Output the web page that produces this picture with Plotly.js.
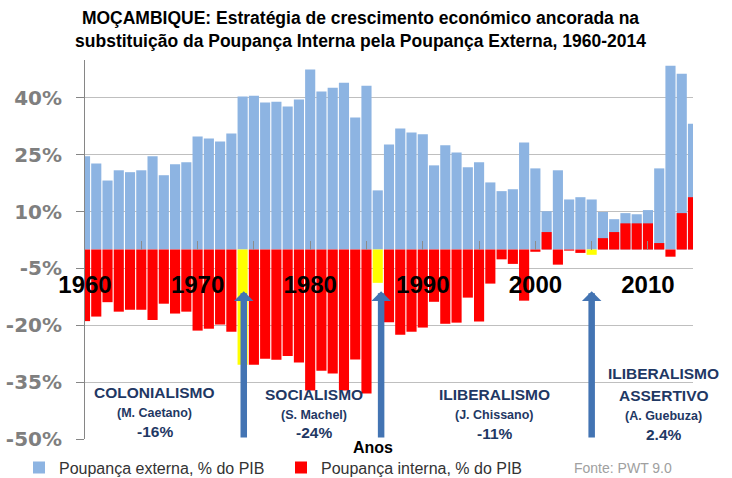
<!DOCTYPE html>
<html>
<head>
<meta charset="utf-8">
<script src="https://cdn.plot.ly/plotly-3.0.1.min.js"></script>
<style>html,body{margin:0;padding:0;background:#fff;}#chart{width:732px;height:478px;}</style>
</head>
<body>
<div id="chart"></div>
<script>
// ---- DATA ----
const years = [1960,1961,1962,1963,1964,1965,1966,1967,1968,1969,
  1970,1971,1972,1973,1974,1975,1976,1977,1978,1979,
  1980,1981,1982,1983,1984,1985,1986,1987,1988,1989,
  1990,1991,1992,1993,1994,1995,1996,1997,1998,1999,
  2000,2001,2002,2003,2004,2005,2006,2007,2008,2009,
  2010,2011,2012,2013,2014];
const poupancaExterna = [24.6,22.7,18.2,20.9,20.4,20.9,24.6,19.6,22.5,23.0,
  29.8,29.3,28.5,30.6,40.4,40.6,38.8,39.0,37.7,39.6,
  47.5,41.7,42.7,44.0,34.8,43.2,15.6,27.7,31.9,30.9,
  30.4,22.2,27.5,25.6,21.7,23.0,17.7,15.4,15.9,28.2,
  21.4,10.1,20.9,13.2,13.8,13.2,9.9,8.0,9.6,9.3,
  10.4,21.4,48.5,46.4,33.2];
const poupancaInterna = [-18.9,-17.7,-13.9,-16.4,-15.9,-15.9,-18.6,-14.3,-16.9,-16.4,
  -21.4,-20.9,-19.8,-21.7,-30.4,-30.4,-28.8,-29.1,-28.1,-29.8,
  -37.2,-32.0,-32.7,-37.2,-29.0,-38.0,-8.8,-19.2,-22.5,-21.7,
  -20.6,-13.8,-19.6,-19.3,-12.7,-19.0,-9.0,-2.6,-3.8,-13.5,
  -0.6,4.6,-4.0,-0.3,-0.9,-1.4,3.0,4.6,6.9,6.9,
  6.9,1.7,-1.9,9.6,13.8];
const transitionYears = [1974, 1986, 2005];
const yTickVals = [-50,-35,-20,-5,10,25,40];
const yTickText = ['-50%','-35%','-20%','-5%','10%','25%','40%'];
const seriesNames = ['Poupança externa, % do PIB','Poupança interna, % do PIB'];
const regimeLines = [
  ['COLONIALISMO','(M. Caetano)','-16%'],
  ['SOCIALISMO','(S. Machel)','-24%'],
  ['ILIBERALISMO','(J. Chissano)','-11%'],
  ['ILIBERALISMO','ASSERTIVO','(A. Guebuza)','2.4%']
];
const arrowYears = [1974.1, 1986.3, 2005.0];
const titleText = 'MOÇAMBIQUE: Estratégia de crescimento económico ancorada na<br>substituição da Poupança Interna pela Poupança Externa, 1960-2014';
const sourceText = 'Fonte: PWT 9.0';
const xTitleText = 'Anos';

// ---- STYLE ----
const BLUE = '#8DB4E2', RED = '#FF0000', YELLOW = '#FFFF00', NAVY = '#1F3864';
const redColors = years.map(y => transitionYears.includes(y) ? YELLOW : RED);

const traces = [
  {type:'bar', x:years, y:poupancaExterna, name:seriesNames[0], width:0.9,
   marker:{color:BLUE, line:{width:0}}, opacity:1, hoverinfo:'skip'},
  {type:'bar', x:years, y:poupancaInterna, name:seriesNames[1], width:0.9,
   marker:{color:redColors, line:{width:0}}, opacity:1, hoverinfo:'skip'}
];

const annotations = [];
// regime labels
const regimePos = [
  {x:1966.2, ys:[-37.6,-43.1,-48.1]},
  {x:1980.3, ys:[-38.3,-43.6,-48.3]},
  {x:1996.4, ys:[-38.3,-43.6,-48.6]},
  {x:2011.4, ys:[-32.8,-38.6,-43.9,-48.9]}
];
regimeLines.forEach((lines, i) => {
  lines.forEach((t, j) => {
    const small = t.startsWith('(');
    annotations.push({x:regimePos[i].x, y:regimePos[i].ys[j], xref:'x', yref:'y', text:t,
      showarrow:false, xanchor:'center', yanchor:'middle',
      font:{family:'Liberation Sans, Arial, sans-serif', size: small ? 12.5 : 15.5, color:NAVY, weight:'bold'}});
  });
});
// arrows
arrowYears.forEach(xv => {
  annotations.push({x:xv, y:-11, ax:xv, ay:-50, xref:'x', yref:'y', axref:'x', ayref:'y',
    text:'', showarrow:true, arrowcolor:'#4374B3', arrowwidth:6.5, arrowhead:1, arrowsize:0.5, standoff:0, startstandoff:0});
});
// axis title
annotations.push({x:(372.5-85)/608, y:(439.3-447.5)/379, xref:'paper', yref:'paper', text:xTitleText,
  showarrow:false, xanchor:'center', yanchor:'middle',
  font:{family:'Liberation Sans, Arial, sans-serif', size:16, color:'#000', weight:'bold'}});
// source
annotations.push({x:(571.7-85)/608, y:(439.3-468.5)/379, xref:'paper', yref:'paper', text:sourceText,
  showarrow:false, xanchor:'left', yanchor:'middle',
  font:{family:'Liberation Sans, Arial, sans-serif', size:14, color:'#A0A0A0'}});

const layout = {
  width:732, height:478,
  margin:{l:85, r:39, t:60, b:39, pad:0},
  paper_bgcolor:'#fff', plot_bgcolor:'#fff',
  barmode:'overlay',
  showlegend:true,
  title:{text:titleText, x:360.5/732, xref:'container', xanchor:'center',
    y:1-24/478, yref:'container', yanchor:'top',
    font:{family:'Liberation Sans, Arial, sans-serif', size:17.5, color:'#000', weight:'bold'}},
  xaxis:{range:[1960,2014], anchor:'free', position:0.5, tickmode:'linear', tick0:1960, dtick:5, ticklabelstep:2,
    ticks:'inside', ticklen:9, tickwidth:1, tickcolor:'#8C8C8C', showgrid:false, showline:false, zeroline:false,
    ticklabelstandoff:18, automargin:false, fixedrange:true,
    tickfont:{family:'Liberation Sans, Arial, sans-serif', size:24, color:'#000', weight:'bold'}},
  yaxis:{range:[-50,50], tickmode:'array', tickvals:yTickVals, ticktext:yTickText,
    showgrid:true, gridcolor:'#BFBFBF', gridwidth:1, zeroline:false,
    showline:true, linecolor:'#868686', linewidth:1, ticks:'outside', ticklen:8, tickcolor:'#868686',
    ticklabelstandoff:10, automargin:false, fixedrange:true,
    tickfont:{family:'DejaVu Sans, sans-serif', size:20, color:'#7F7F7F', weight:'bold'}},
  legend:{orientation:'h', xref:'container', yref:'container', x:19/732, y:(478-467.5)/478,
    xanchor:'left', yanchor:'middle', entrywidth:217, entrywidthmode:'pixels',
    bgcolor:'rgba(0,0,0,0)', borderwidth:0, traceorder:'normal',
    font:{family:'Liberation Sans, Arial, sans-serif', size:16, color:'#333'}},
  annotations:annotations
};

Plotly.newPlot('chart', traces, layout, {displayModeBar:false, staticPlot:true});
</script>
</body>
</html>
